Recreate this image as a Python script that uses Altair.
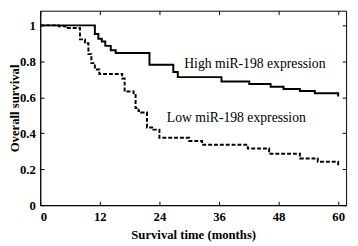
import altair as alt
import pandas as pd

# Kaplan-Meier steps
high_t = [0, 11.0, 11.7, 12.4, 13.1, 14.2, 15.2, 22.0, 26.8, 27.7, 36.5, 42.1, 46.4, 49.0, 52.3, 55.3, 60.0]
high_s = [1.0, 0.952, 0.925, 0.91, 0.886, 0.862, 0.846, 0.781, 0.741, 0.712, 0.688, 0.674, 0.659, 0.646, 0.635, 0.622, 0.605]

low_t = [0, 3.7, 5.1, 8.0, 9.0, 9.7, 10.3, 11.0, 11.9, 16.5, 17.0, 18.8, 19.2, 19.8, 20.3, 21.5, 22.8, 24.0, 30.0, 32.6, 41.8, 46.1, 52.3, 55.9, 60.0]
low_s = [1.0, 0.995, 0.985, 0.922, 0.90, 0.84, 0.79, 0.755, 0.73, 0.705, 0.632, 0.613, 0.54, 0.523, 0.515, 0.432, 0.42, 0.375, 0.357, 0.336, 0.315, 0.286, 0.259, 0.241, 0.222]

x_ticks = [0, 12, 24, 36, 48, 60]
y_ticks = [0, 0.2, 0.4, 0.6, 0.8, 1]

label_text = ["High miR-198 expression", "Low miR-198 expression"]
label_x = [29.0, 25.5]
label_y = [0.783, 0.484]

W, H = 313, 199
SERIF = "Liberation Serif"

high = pd.DataFrame({"t": high_t, "s": high_s})
low = pd.DataFrame({"t": low_t, "s": low_s})
labels = pd.DataFrame({"x": label_x, "y": label_y, "text": label_text})

xs = alt.Scale(domain=[0, 61.6], nice=False, zero=False)
ys = alt.Scale(domain=[0, 1.0815], nice=False, zero=False)

main_x_axis = alt.Axis(values=x_ticks, ticks=False, tickSize=0, grid=False, labelPadding=6,
                       labelFont=SERIF, labelFontWeight="bold", labelFontSize=13, labelColor="black",
                       title="Survival time (months)", titleFont=SERIF, titleFontWeight="bold",
                       titleFontSize=13, titleColor="black", titlePadding=5,
                       domainColor="black", domainWidth=1)
main_y_axis = alt.Axis(values=y_ticks, ticks=False, tickSize=0, grid=False, labelPadding=5, format="~g",
                       labelFont=SERIF, labelFontWeight="bold", labelFontSize=13, labelColor="black",
                       title="Overall survival", titleFont=SERIF, titleFontWeight="bold",
                       titleFontSize=13, titleColor="black", titleX=-19,
                       domainColor="black", domainWidth=1)


def tick_axis(values, orient, offset):
    return alt.Axis(values=values, orient=orient, offset=offset, ticks=True, tickSize=4,
                    tickColor="black", tickWidth=1, labels=False, domain=False, grid=False, title=None)


high_line = alt.Chart(high).mark_line(interpolate="step-after", color="black", strokeWidth=2).encode(
    x=alt.X("t:Q", scale=xs, axis=main_x_axis),
    y=alt.Y("s:Q", scale=ys, axis=main_y_axis),
)

low_line = alt.Chart(low).mark_line(interpolate="step-after", color="black", strokeWidth=2,
                                    strokeDash=[4, 2]).encode(
    x=alt.X("t:Q", scale=xs, axis=None),
    y=alt.Y("s:Q", scale=ys, axis=None),
)

text = alt.Chart(labels).mark_text(align="left", baseline="middle", font=SERIF, fontSize=14,
                                   color="black").encode(
    x=alt.X("x:Q", scale=xs, axis=None),
    y=alt.Y("y:Q", scale=ys, axis=None),
    text="text:N",
)

ticks_a = alt.Chart(high).mark_line(opacity=0).encode(
    x=alt.X("t:Q", scale=xs, axis=tick_axis(x_ticks, "top", -H)),
    y=alt.Y("s:Q", scale=ys, axis=tick_axis(y_ticks, "right", -W)),
)
ticks_b = alt.Chart(high).mark_line(opacity=0).encode(
    x=alt.X("t:Q", scale=xs, axis=tick_axis(x_ticks, "bottom", -H)),
    y=alt.Y("s:Q", scale=ys, axis=tick_axis(y_ticks, "left", -W)),
)

chart = alt.layer(high_line, low_line, text, ticks_a, ticks_b).resolve_axis(
    x="independent", y="independent"
).properties(
    width=W, height=H,
    autosize=alt.AutoSizeParams(type="none"),
    padding={"left": 33, "top": 0, "right": 4, "bottom": 38},
    background="white",
).configure_view(stroke="black", strokeWidth=1)

chart.save("out.html", embed_options={"renderer": "svg", "actions": False})
